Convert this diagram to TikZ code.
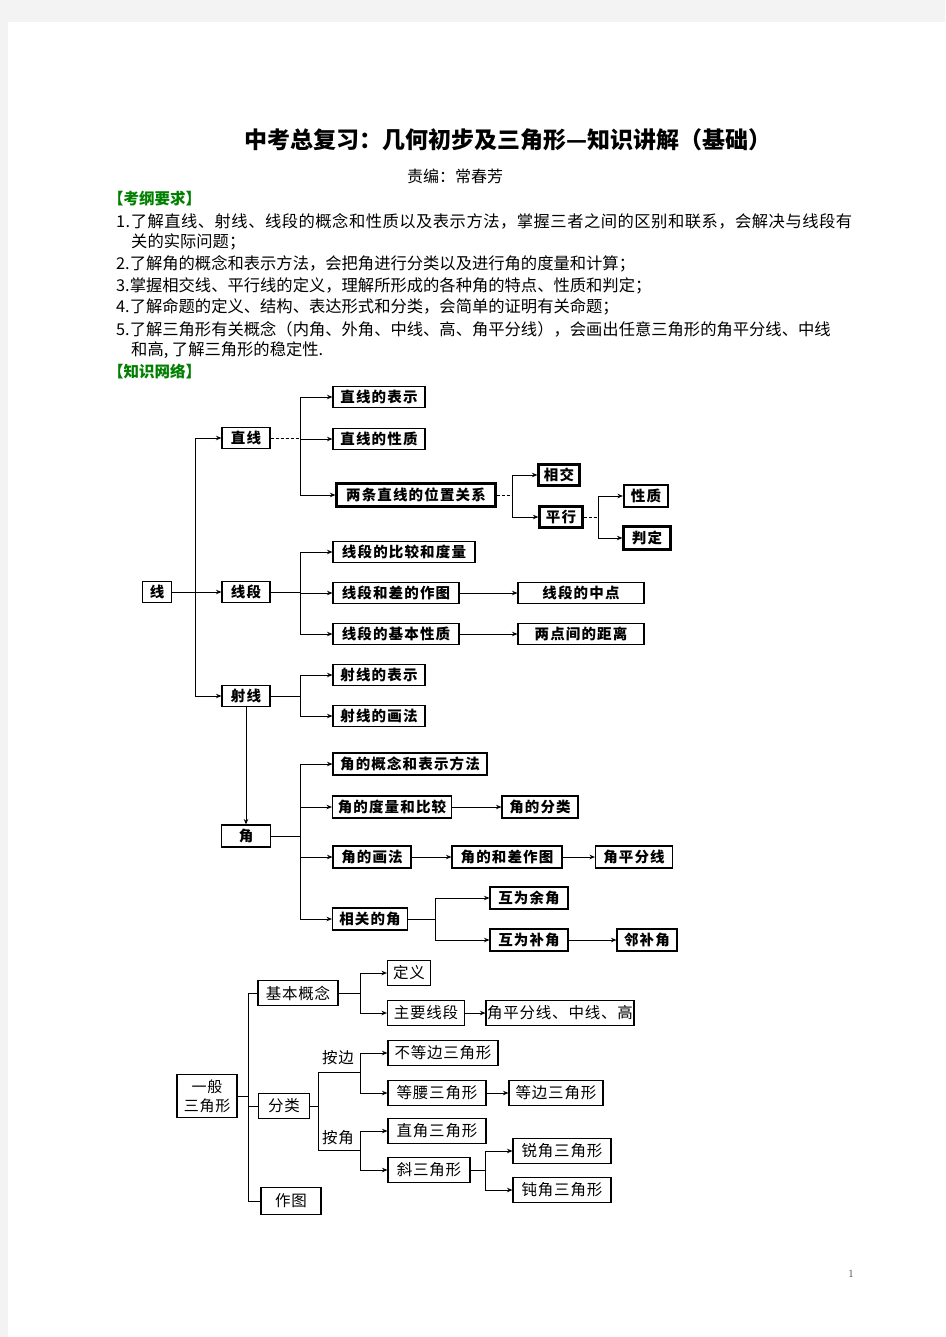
\documentclass[tikz,border=0pt]{standalone}
\usepackage{fontspec}
\newfontfamily\cjk{Noto Sans CJK SC}
\newfontfamily\cjkbox[LetterSpace=8]{Noto Sans CJK SC}
\newfontfamily\cjktri[LetterSpace=5]{Noto Sans CJK SC}
\usetikzlibrary{arrows.meta}
\definecolor{kgreen}{RGB}{0,128,0}
\definecolor{pagegray}{RGB}{243,243,243}
\begin{document}
\begin{tikzpicture}[x=1pt,y=-1pt,
  box/.style={draw, line width=1.1pt, minimum height=21pt, inner sep=0pt, font=\cjkbox\bfseries\fontsize{14.5}{15}\selectfont},
  tbox/.style={box, line width=2.2pt},
  tri/.style={draw, line width=1.1pt, minimum height=25pt, inner sep=0pt, font=\cjktri\fontsize{15.5}{16}\selectfont},
  arr/.style={-{Stealth[length=5.5pt,width=4.5pt]}, line width=0.9pt},
  ln/.style={line width=0.9pt},
  dln/.style={line width=1pt, densely dashed},
  req/.style={anchor=west, inner sep=0pt, font=\cjk\fontsize{16.3}{18}\selectfont},
  head/.style={anchor=west, inner sep=0pt, text=kgreen, font=\cjk\bfseries\fontsize{15.5}{16}\selectfont},
  lbl/.style={inner sep=0pt, font=\cjktri\fontsize{15.5}{16}\selectfont}]
% background
\fill[pagegray] (0,0) rectangle (945,1337);
\fill[white] (8,22) rectangle (945,1337);
\useasboundingbox (0,0) rectangle (945,1337);
% title
\node[inner sep=0pt, font=\cjk\bfseries\fontsize{23}{24}\selectfont] (title) at (508,140) {中考总复习：几何初步及三角形—知识讲解（基础）};
\node[inner sep=0pt, font=\cjk\fontsize{16}{18}\selectfont] (editor) at (455,176) {责编：常春芳};
\node[head] (h1) at (108,199) {【考纲要求】};
\node[req] (r1) at (116,221) {\addfontfeature{LetterSpace=3}1.了解直线、射线、线段的概念和性质以及表示方法，掌握三者之间的区别和联系，会解决与线段有};
\node[req] (r1b) at (131,242) {关的实际问题；};
\node[req] (r2) at (116,264) {2.了解角的概念和表示方法，会把角进行分类以及进行角的度量和计算；};
\node[req] (r3) at (116,286) {3.掌握相交线、平行线的定义，理解所形成的各种角的特点、性质和判定；};
\node[req] (r4) at (116,307) {4.了解命题的定义、结构、表达形式和分类，会简单的证明有关命题；};
\node[req] (r5) at (116,329) {5.了解三角形有关概念（内角、外角、中线、高、角平分线），会画出任意三角形的角平分线、中线};
\node[req] (r5b) at (131,350) {和高, 了解三角形的稳定性.};
\node[head] (h2) at (108,372) {【知识网络】};
% ---------- lines ----------
\node[box, minimum width=29pt] (xian) at (157,592) {线};
\node[box, minimum width=48pt] (zx) at (246,438) {直线};
\node[box, minimum width=48pt] (xd) at (246,592) {线段};
\node[box, minimum width=48pt] (sx) at (246,696) {射线};
\coordinate (j0) at (195,0);
\draw[ln] (xian.east) -- (j0 |- xian);
\draw[ln] (j0 |- zx) -- (j0 |- sx);
\draw[arr] (j0 |- zx) -- (zx.west);
\draw[arr] (j0 |- xd) -- (xd.west);
\draw[arr] (j0 |- sx) -- (sx.west);
% zhixian
\node[box, minimum width=92pt] (zx1) at (379,397) {直线的表示};
\node[box, minimum width=92pt] (zx2) at (379,439) {直线的性质};
\node[tbox, minimum width=159pt, minimum height=23pt] (zx3) at (416,495) {两条直线的位置关系};
\coordinate (j1) at (300,0);
\draw[dln] (zx.east) -- (j1 |- zx);
\draw[ln] (j1 |- zx1) -- (j1 |- zx3);
\draw[arr] (j1 |- zx1) -- (zx1.west);
\draw[arr] (j1 |- zx2) -- (zx2.west);
\draw[arr] (j1 |- zx3) -- (zx3.west);
\node[tbox, minimum width=41pt] (xj) at (559,475) {相交};
\node[tbox, minimum width=43pt] (px) at (561,517) {平行};
\coordinate (j2) at (512,0);
\draw[dln] (zx3.east) -- (j2 |- zx3);
\draw[ln] (j2 |- xj) -- (j2 |- px);
\draw[arr] (j2 |- xj) -- (xj.west);
\draw[arr] (j2 |- px) -- (px.west);
\node[tbox, minimum width=44pt, minimum height=22pt] (xz) at (646,496) {性质};
\node[tbox, minimum width=47pt, minimum height=23pt] (pd) at (647,538) {判定};
\coordinate (j3) at (598,0);
\draw[dln] (px.east) -- (j3 |- px);
\draw[ln] (j3 |- xz) -- (j3 |- pd);
\draw[arr] (j3 |- xz) -- (xz.west);
\draw[arr] (j3 |- pd) -- (pd.west);
% xianduan
\node[box, minimum width=142pt] (xd1) at (404,552) {线段的比较和度量};
\node[box, minimum width=126pt] (xd2) at (396,593) {线段和差的作图};
\node[box, minimum width=126pt] (xd3) at (396,634) {线段的基本性质};
\node[box, minimum width=126pt] (xd4) at (581,593) {线段的中点};
\node[box, minimum width=126pt] (xd5) at (581,634) {两点间的距离};
\coordinate (j4) at (300,0);
\draw[ln] (xd.east) -- (j4 |- xd);
\draw[ln] (j4 |- xd1) -- (j4 |- xd3);
\draw[arr] (j4 |- xd1) -- (xd1.west);
\draw[arr] (j4 |- xd2) -- (xd2.west);
\draw[arr] (j4 |- xd3) -- (xd3.west);
\draw[arr] (xd2.east) -- (xd4.west);
\draw[arr] (xd3.east) -- (xd5.west);
% shexian
\node[box, minimum width=92pt] (sx1) at (379,675) {射线的表示};
\node[box, minimum width=92pt] (sx2) at (379,716) {射线的画法};
\coordinate (j5) at (300,0);
\draw[ln] (sx.east) -- (j5 |- sx);
\draw[ln] (j5 |- sx1) -- (j5 |- sx2);
\draw[arr] (j5 |- sx1) -- (sx1.west);
\draw[arr] (j5 |- sx2) -- (sx2.west);
% jiao
\node[box, minimum width=49pt, minimum height=22pt] (jiao) at (246,836) {角};
\draw[arr] (sx.south) -- (jiao.north);
\node[box, minimum width=154pt, minimum height=22pt] (ja) at (410,764) {角的概念和表示方法};
\node[box, minimum width=119pt, minimum height=22pt] (jb) at (392,807) {角的度量和比较};
\node[box, minimum width=76pt, minimum height=22pt] (jbb) at (540,807) {角的分类};
\node[box, minimum width=78pt, minimum height=22pt] (jc) at (372,857) {角的画法};
\node[box, minimum width=110pt, minimum height=22pt] (jcb) at (507,857) {角的和差作图};
\node[box, minimum width=77pt, minimum height=22pt] (jcc) at (634,857) {角平分线};
\node[box, minimum width=75pt, minimum height=22pt] (jd) at (370,919) {相关的角};
\coordinate (j6) at (300,0);
\draw[ln] (jiao.east) -- (j6 |- jiao);
\draw[ln] (j6 |- ja) -- (j6 |- jd);
\draw[arr] (j6 |- ja) -- (ja.west);
\draw[arr] (j6 |- jb) -- (jb.west);
\draw[arr] (j6 |- jc) -- (jc.west);
\draw[arr] (j6 |- jd) -- (jd.west);
\draw[arr] (jb.east) -- (jbb.west);
\draw[arr] (jc.east) -- (jcb.west);
\draw[arr] (jcb.east) -- (jcc.west);
\node[box, minimum width=78pt, minimum height=22pt] (yu) at (529,898) {互为余角};
\node[box, minimum width=78pt, minimum height=22pt] (bu) at (529,940) {互为补角};
\node[box, minimum width=60pt, minimum height=22pt] (lb) at (647,940) {邻补角};
\coordinate (j7) at (435,0);
\draw[ln] (jd.east) -- (j7 |- jd);
\draw[ln] (j7 |- yu) -- (j7 |- bu);
\draw[arr] (j7 |- yu) -- (yu.west);
\draw[arr] (j7 |- bu) -- (bu.west);
\draw[arr] (bu.east) -- (lb.west);
% ---------- triangle ----------
\node[tri, minimum width=60pt, minimum height=43pt, align=center, font=\cjktri\fontsize{15}{19}\selectfont] (gen) at (207,1096) {一般\\三角形};
\node[tri, minimum width=80pt] (jbgn) at (298,993) {基本概念};
\node[tri, minimum width=51pt] (fl) at (284,1106) {分类};
\node[tri, minimum width=60pt, minimum height=27pt] (zt) at (291,1201) {作图};
\coordinate (j8) at (248,0);
\draw[ln] (gen.east) -- (j8 |- gen);
\draw[ln] (j8 |- jbgn) -- (j8 |- zt);
\draw[ln] (j8 |- jbgn) -- (jbgn.west);
\draw[ln] (j8 |- fl) -- (fl.west);
\draw[ln] (j8 |- zt) -- (zt.west);
\node[tri, minimum width=43pt] (dy) at (409,973) {定义};
\node[tri, minimum width=77pt] (zy) at (426,1013) {主要线段};
\node[tri, minimum width=148pt] (jp) at (560,1013) {角平分线、中线、高};
\coordinate (j9) at (360,0);
\draw[ln] (jbgn.east) -- (j9 |- jbgn);
\draw[ln] (j9 |- dy) -- (j9 |- zy);
\draw[arr] (j9 |- dy) -- (dy.west);
\draw[arr] (j9 |- zy) -- (zy.west);
\draw[arr] (zy.east) -- (jp.west);
% classification
\coordinate (j10) at (318,0);
\coordinate (ab) at (360,1072);
\coordinate (aj) at (360,1150);
\node[lbl] (lab) at (338,1058) {按边};
\node[lbl] (laj) at (338,1138) {按角};
\draw[ln] (fl.east) -- (j10 |- fl);
\draw[ln] (j10 |- ab) -- (j10 |- aj);
\draw[ln] (j10 |- ab) -- (ab);
\draw[ln] (j10 |- aj) -- (aj);
\node[tri, minimum width=110pt] (bdb) at (443,1053) {不等边三角形};
\node[tri, minimum width=98pt] (dyao) at (437,1093) {等腰三角形};
\node[tri, minimum width=94pt] (dbs) at (556,1093) {等边三角形};
\draw[ln] (ab |- bdb) -- (ab |- dyao);
\draw[arr] (ab |- bdb) -- (bdb.west);
\draw[arr] (ab |- dyao) -- (dyao.west);
\draw[arr] (dyao.east) -- (dbs.west);
\node[tri, minimum width=98pt] (zj) at (437,1131) {直角三角形};
\node[tri, minimum width=82pt] (xs) at (429,1170) {斜三角形};
\draw[ln] (aj |- zj) -- (aj |- xs);
\draw[arr] (aj |- zj) -- (zj.west);
\draw[arr] (aj |- xs) -- (xs.west);
\node[tri, minimum width=98pt] (rj) at (562,1151) {锐角三角形};
\node[tri, minimum width=98pt] (dj) at (562,1190) {钝角三角形};
\coordinate (j13) at (485,0);
\draw[ln] (xs.east) -- (j13 |- xs);
\draw[ln] (j13 |- rj) -- (j13 |- dj);
\draw[arr] (j13 |- rj) -- (rj.west);
\draw[arr] (j13 |- dj) -- (dj.west);
% page number
\node[inner sep=0pt, text=black!75, font=\fontsize{11}{12}\selectfont] (pg) at (851,1274) {1};
\end{tikzpicture}
\end{document}
